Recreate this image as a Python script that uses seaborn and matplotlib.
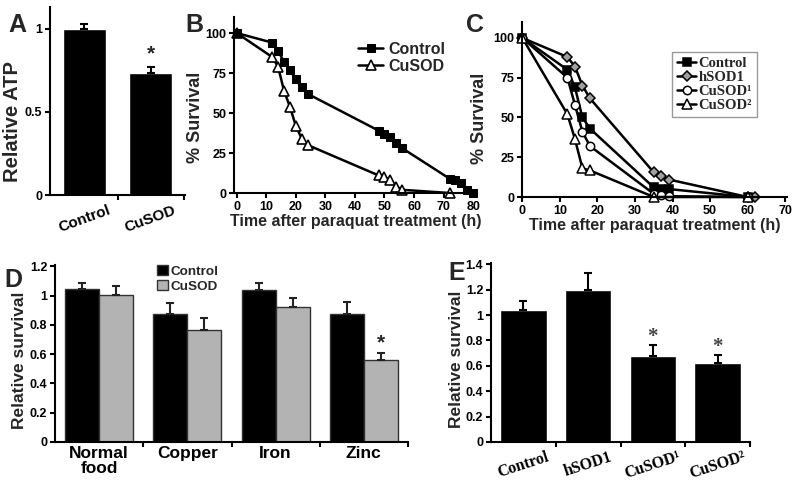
import numpy as np
import pandas as pd
import matplotlib
matplotlib.use("Agg")
import matplotlib.pyplot as plt
import seaborn as sns

# ---------------- data ----------------
# Panel A
a_cats = ["Control", "CuSOD"]
a_vals = [1.0, 0.735]
a_errs = [0.03, 0.035]

# Panel B
b_ctrl_t = [0, 12, 14, 16, 18, 20, 22, 24, 48, 50, 52, 54, 56, 72, 74, 76, 78, 80]
b_ctrl_s = [100, 94, 89, 82, 77, 71, 66, 62, 39, 37, 35, 31, 28, 9, 8, 6, 2, 0]
b_cusod_t = [0, 12, 14, 16, 18, 20, 22, 24, 48, 50, 52, 54, 56, 72]
b_cusod_s = [100, 85, 79, 64, 54, 42, 34, 30, 11, 10, 8, 4, 2, 0]

# Panel C
c_ctrl_t = [0, 12, 14, 16, 18, 35, 37, 39, 60]
c_ctrl_s = [100, 80, 69, 50, 43, 6, 5, 5, 0]
c_hsod_t = [0, 12, 14, 16, 18, 35, 37, 39, 60, 62]
c_hsod_s = [100, 88, 82, 70, 62, 15.5, 13, 11, 0, 0]
c_cu1_t = [0, 12, 14, 16, 18, 35, 37, 39, 60]
c_cu1_s = [100, 75, 58, 41, 32, 2, 1.5, 0.5, 0]
c_cu2_t = [0, 12, 14, 16, 18, 35, 60]
c_cu2_s = [100, 52, 36.5, 18, 16.7, 0, 0]

# Panel D
d_foods = ["Normal\nfood", "Copper", "Iron", "Zinc"]
d_groups = ["Control", "CuSOD"]
d_ctrl = [1.048, 0.876, 1.040, 0.876]
d_ctrl_err = [0.040, 0.076, 0.045, 0.080]
d_cusod = [1.008, 0.768, 0.924, 0.558]
d_cusod_err = [0.057, 0.080, 0.062, 0.050]

# Panel E
e_cats = ["Control", "hSOD1", "CuSOD\u00b9", "CuSOD\u00b2"]
e_vals = [1.036, 1.200, 0.680, 0.625]
e_errs = [0.074, 0.129, 0.082, 0.058]

# ---------------- style ----------------
sns.set_style("ticks")
plt.rcParams["font.family"] = ["Liberation Sans", "DejaVu Sans"]
plt.rcParams["font.weight"] = "bold"
plt.rcParams["axes.labelweight"] = "bold"
plt.rcParams["axes.linewidth"] = 1.5
plt.rcParams["xtick.major.width"] = 1.5
plt.rcParams["ytick.major.width"] = 1.5
plt.rcParams["xtick.minor.width"] = 1.5
plt.rcParams["xtick.major.size"] = 3.5
plt.rcParams["ytick.major.size"] = 3.5
plt.rcParams["xtick.minor.size"] = 3.5
plt.rcParams["xtick.color"] = "black"
plt.rcParams["ytick.color"] = "black"
plt.rcParams["axes.edgecolor"] = "black"
plt.rcParams["xtick.major.pad"] = 2
plt.rcParams["ytick.major.pad"] = 2

W, H = 800, 483
fig = plt.figure(figsize=(8, 4.83), dpi=100)


def px_axes(l, t, r, b):
    return fig.add_axes([l / W, (H - b) / H, (r - l) / W, (b - t) / H])


def clean(ax):
    sns.despine(ax=ax)
    ax.tick_params(axis="both", colors="black")


# ---------------- Panel A ----------------
axA = px_axes(50, 7, 185, 195)
dfA = pd.DataFrame({"g": a_cats, "v": a_vals})
sns.barplot(data=dfA, x="g", y="v", color="black", width=0.65, ax=axA,
            errorbar=None, saturation=1)
axA.errorbar(range(len(a_vals)), a_vals, yerr=[np.zeros(len(a_errs)), a_errs],
             fmt="none", ecolor="black", elinewidth=1.5, capsize=3, capthick=1.5)
axA.set_xlim(-0.52, 1.52)
axA.set_ylim(0, 1.13)
axA.set_yticks([0, 0.5, 1])
axA.set_yticklabels(["0", "0.5", "1"], fontsize=9)
axA.set_xticks([0, 1])
axA.set_xticklabels(a_cats, rotation=20, fontsize=11, ha="center")
axA.tick_params(axis="x", length=0, pad=6)
axA.set_xticks([0.5, 1.5], minor=True)
axA.set_xlabel("")
axA.set_ylabel("Relative ATP", fontsize=14.5)
axA.yaxis.set_label_coords(-0.205, 0.39)
axA.text(1, a_vals[1] + a_errs[1] + 0.02, "*", ha="center", va="bottom",
         fontsize=15, fontweight="bold")
clean(axA)

# ---------------- Panel B ----------------
axB = px_axes(234, 17, 477, 193)
dfB1 = pd.DataFrame({"t": b_ctrl_t, "s": b_ctrl_s})
dfB2 = pd.DataFrame({"t": b_cusod_t, "s": b_cusod_s})
sns.lineplot(data=dfB2, x="t", y="s", ax=axB, color="black", lw=1.8,
             marker="^", markersize=7, markerfacecolor="white",
             markeredgecolor="black", markeredgewidth=1.2, sort=False,
             estimator=None, label="CuSOD", clip_on=False)
sns.lineplot(data=dfB1, x="t", y="s", ax=axB, color="black", lw=1.8,
             marker="s", markersize=6, markerfacecolor="black",
             markeredgecolor="black", sort=False, estimator=None,
             label="Control", clip_on=False)
axB.set_xlim(-0.9, 81.3)
axB.set_ylim(0, 110)
axB.set_xticks(range(0, 81, 10))
axB.set_yticks([0, 25, 50, 75, 100])
axB.tick_params(labelsize=9)
axB.set_xlabel("Time after paraquat treatment (h)", fontsize=11.5, labelpad=1)
axB.set_ylabel("% Survival", fontsize=13)
axB.yaxis.set_label_coords(-0.123, 0.43)
h, l = axB.get_legend_handles_labels()
axB.legend(h[::-1], l[::-1], loc="upper left", bbox_to_anchor=(0.51, 0.86),
           frameon=False, fontsize=11.5, handlelength=1.6, handletextpad=0.3,
           labelspacing=0.15, borderpad=0, borderaxespad=0)
clean(axB)

# ---------------- Panel C ----------------
axC = px_axes(522, 22, 787, 197)
series_c = [
    ("Control", c_ctrl_t, c_ctrl_s, "s", "black", 6),
    ("hSOD1", c_hsod_t, c_hsod_s, "D", "#a0a0a0", 5.5),
    ("CuSOD\u00b9", c_cu1_t, c_cu1_s, "o", "white", 6),
    ("CuSOD\u00b2", c_cu2_t, c_cu2_s, "^", "white", 7),
]
for name, t, s, mk, fc, ms in series_c:
    dfc = pd.DataFrame({"t": t, "s": s})
    sns.lineplot(data=dfc, x="t", y="s", ax=axC, color="black", lw=1.8,
                 marker=mk, markersize=ms, markerfacecolor=fc,
                 markeredgecolor="black", markeredgewidth=1.1, sort=False,
                 estimator=None, label=name, clip_on=False)
axC.set_xlim(-0.1, 70.5)
axC.set_ylim(0, 110)
axC.set_xticks(range(0, 71, 10))
axC.set_yticks([0, 25, 50, 75, 100])
axC.tick_params(labelsize=9)
axC.set_xlabel("Time after paraquat treatment (h)", fontsize=11.5, labelpad=1)
axC.set_ylabel("% Survival", fontsize=13)
axC.yaxis.set_label_coords(-0.128, 0.45)
legC = axC.legend(loc="upper left", bbox_to_anchor=(0.566, 0.83),
                  frameon=True, fancybox=False, edgecolor="#808080",
                  prop={"family": "Liberation Serif", "weight": "bold", "size": 10.5},
                  handlelength=1.3, handletextpad=0.15, labelspacing=0.05,
                  borderpad=0.35, borderaxespad=0)
legC.get_frame().set_linewidth(1.0)
clean(axC)

# ---------------- Panel D ----------------
axD = px_axes(55, 265, 408, 442)
dfD = pd.DataFrame({
    "food": d_foods * 2,
    "group": [d_groups[0]] * 4 + [d_groups[1]] * 4,
    "v": d_ctrl + d_cusod,
})
sns.barplot(data=dfD, x="food", y="v", hue="group", ax=axD,
            palette=["black", "#b3b3b3"], width=0.77, errorbar=None,
            saturation=1, edgecolor="#333333", linewidth=1.0)
xs = np.arange(len(d_foods))
off = 0.77 / 4
axD.errorbar(xs - off, d_ctrl, yerr=[np.zeros(4), d_ctrl_err], fmt="none",
             ecolor="#222222", elinewidth=1.5, capsize=3, capthick=1.5)
axD.errorbar(xs + off, d_cusod, yerr=[np.zeros(4), d_cusod_err], fmt="none",
             ecolor="#222222", elinewidth=1.5, capsize=3, capthick=1.5)
axD.text(3 + off, d_cusod[3] + d_cusod_err[3] + 0.005, "*", ha="center",
         va="bottom", fontsize=15, fontweight="bold")
axD.set_xlim(-0.5, 3.5)
axD.set_ylim(0, 1.21)
axD.set_yticks([0, 0.2, 0.4, 0.6, 0.8, 1.0, 1.2])
axD.set_yticklabels(["0", "0.2", "0.4", "0.6", "0.8", "1", "1.2"], fontsize=9)
axD.set_xticks(xs)
axD.set_xticklabels(d_foods, fontsize=12.5, linespacing=0.95)
axD.tick_params(axis="x", length=0, pad=3)
axD.set_xticks([0.5, 1.5, 2.5, 3.5], minor=True)
axD.set_xlabel("")
axD.set_ylabel("Relative survival", fontsize=12.5)
axD.yaxis.set_label_coords(-0.079, 0.46)
hD, lD = axD.get_legend_handles_labels()
axD.legend(hD, lD, loc="upper left", bbox_to_anchor=(0.29, 1.0),
           frameon=False, fontsize=9.7, handlelength=0.8, handleheight=0.8,
           handletextpad=0.2, labelspacing=0.15, borderpad=0, borderaxespad=0)
clean(axD)

# ---------------- Panel E ----------------
axE = px_axes(491, 263, 750, 442)
dfE = pd.DataFrame({"g": e_cats, "v": e_vals})
sns.barplot(data=dfE, x="g", y="v", color="black", width=0.72, ax=axE,
            errorbar=None, saturation=1)
axE.errorbar(range(4), e_vals, yerr=[np.zeros(4), e_errs], fmt="none",
             ecolor="black", elinewidth=1.5, capsize=3, capthick=1.5)
for i in (2, 3):
    axE.text(i, e_vals[i] + e_errs[i] - 0.01, "*", ha="center", va="bottom",
             fontsize=15, color="#444444", family="Liberation Serif")
axE.set_xlim(-0.5, 3.5)
axE.set_ylim(0, 1.41)
axE.set_yticks([0, 0.2, 0.4, 0.6, 0.8, 1.0, 1.2, 1.4])
axE.set_yticklabels(["0", "0.2", "0.4", "0.6", "0.8", "1", "1.2", "1.4"], fontsize=9)
axE.set_xticks(range(4))
axE.set_xticklabels(e_cats, rotation=18, fontsize=11.5,
                    family="Liberation Serif", fontweight="bold")
axE.tick_params(axis="x", length=0, pad=5)
axE.set_xticks([0.5, 1.5, 2.5, 3.5], minor=True)
axE.set_xlabel("")
axE.set_ylabel("Relative survival", fontsize=12.5)
axE.yaxis.set_label_coords(-0.104, 0.46)
clean(axE)

# ---------------- panel letters ----------------
for letter, x, y in [("A", 8, 32), ("B", 185, 32), ("C", 466, 32),
                     ("D", 4, 287), ("E", 448, 280)]:
    fig.text(x / W, (H - y) / H, letter, fontsize=18, fontweight="bold",
             ha="left", va="baseline")

fig.savefig("out.png", dpi=100)
